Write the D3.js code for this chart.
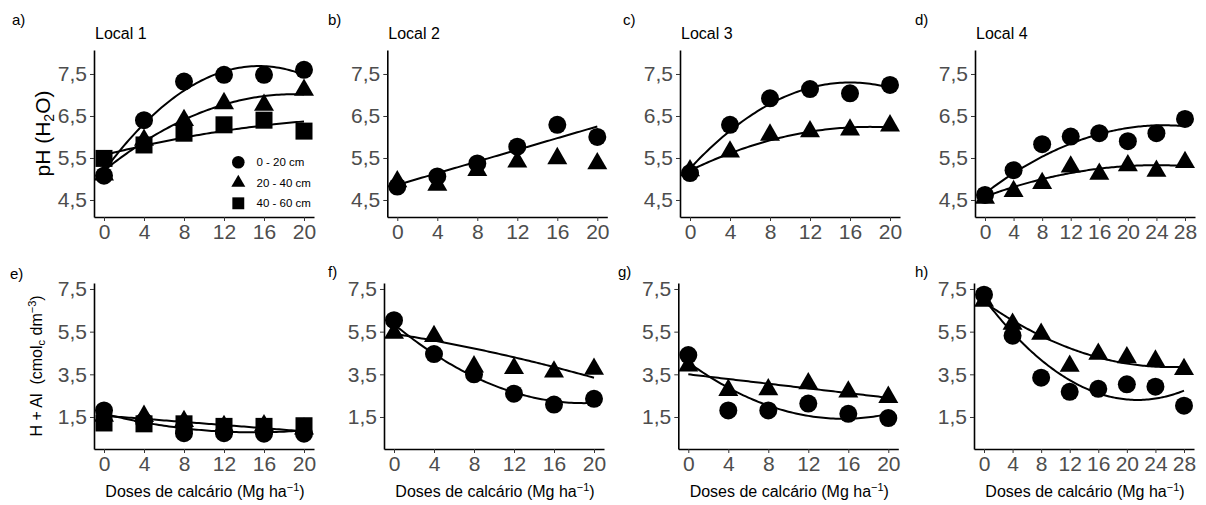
<!DOCTYPE html>
<html><head><meta charset="utf-8">
<script src="https://cdn.jsdelivr.net/npm/d3@7"></script>
<style>body{margin:0;background:#fff} text{font-family:"Liberation Sans",Arial,sans-serif}</style>
</head><body><svg id="c" width="1206" height="505"></svg>
<script>
// ---------- data ----------
const doses20 = [0, 4, 8, 12, 16, 20];
const doses28 = [0, 4, 8, 12, 16, 20, 24, 28];
const phTicks = [4.5, 5.5, 6.5, 7.5];
const halTicks = [1.5, 3.5, 5.5, 7.5];
const depths = ["0 - 20 cm", "20 - 40 cm", "40 - 60 cm"];
const locals = ["Local 1", "Local 2", "Local 3", "Local 4"];
const panelLetters = ["a)", "b)", "c)", "d)", "e)", "f)", "g)", "h)"];

// pH (H2O)
const ph1_0_20  = [5.08, 6.40, 7.32, 7.48, 7.48, 7.60];
const ph1_20_40 = [5.10, 5.93, 6.40, 6.80, 6.76, 7.12];
const ph1_40_60 = [5.49, 5.81, 6.09, 6.29, 6.40, 6.14];
const ph2_0_20  = [4.82, 5.06, 5.37, 5.77, 6.29, 6.00];
const ph2_20_40 = [4.94, 4.86, 5.21, 5.41, 5.49, 5.37];
const ph3_0_20  = [5.14, 6.29, 6.92, 7.14, 7.04, 7.24];
const ph3_20_40 = [5.20, 5.65, 6.05, 6.13, 6.17, 6.27];
const ph4_0_20  = [4.62, 5.21, 5.83, 6.01, 6.09, 5.90, 6.09, 6.43];
const ph4_20_40 = [4.55, 4.71, 4.90, 5.29, 5.12, 5.32, 5.19, 5.40];

// H + Al (cmolc dm-3)
const hal1_0_20  = [1.81, 1.30, 0.74, 0.74, 0.72, 0.72];
const hal1_20_40 = [1.55, 1.54, 1.30, 1.07, 1.10, 0.95];
const hal1_40_60 = [1.22, 1.18, 1.18, 1.06, 1.06, 1.09];
const hal2_0_20  = [6.04, 4.45, 3.50, 2.59, 2.08, 2.35];
const hal2_20_40 = [5.44, 5.28, 3.86, 3.78, 3.62, 3.75];
const hal3_0_20  = [4.40, 1.81, 1.81, 2.13, 1.65, 1.45];
const hal3_20_40 = [3.90, 2.76, 2.79, 3.07, 2.68, 2.43];
const hal4_0_20  = [7.23, 5.31, 3.34, 2.68, 2.82, 3.03, 2.92, 2.03];
const hal4_20_40 = [6.94, 5.86, 5.39, 3.89, 4.45, 4.29, 4.13, 3.74];

// fitted regression coefficients [b0, b1, b2]  (y = b0 + b1 x + b2 x^2)
const fitPh1_0_20  = [5.19, 0.3224, -0.0104];
const fitPh1_20_40 = [5.20, 0.1915, -0.00504];
const fitPh1_40_60 = [5.57, 0.060, -0.0010];
const fitPh2_0_20  = [4.86, 0.0695, 0];
const fitPh3_0_20  = [5.25, 0.256, -0.0080];
const fitPh3_20_40 = [5.20, 0.1156, -0.00321];
const fitPh4_0_20  = [4.66, 0.1295, -0.00259];
const fitPh4_20_40 = [4.58, 0.0624, -0.0013];
const fitHal1_0_20  = [1.65, -0.1161, 0.00387];
const fitHal1_20_40 = [1.56, -0.0365, 0];
const fitHal2_0_20  = [5.85, -0.3895, 0.01025];
const fitHal2_20_40 = [5.40, -0.075, -0.0014];
const fitHal3_0_20  = [4.06, -0.341, 0.011];
const fitHal3_20_40 = [3.50, -0.055, 0];
const fitHal4_0_20  = [7.05, -0.442, 0.01028];
const fitHal4_20_40 = [6.89, -0.2345, 0.00451];

// ---------- layout ----------
const topY = [217, 50], botY = [449, 283];
const phDom = [4.095, 8.071], halDom = [0.0, 7.78];
const panels = [
  {letter:0, title:locals[0], xr:[94,314],  xd:[-1,21],    yr:topY, yd:phDom, yt:phTicks, doses:doses20,
   series:[[ph1_0_20,"circle"],[ph1_20_40,"triangle"],[ph1_40_60,"square"]], fits:[fitPh1_0_20,fitPh1_20_40,fitPh1_40_60], legend:true},
  {letter:1, title:locals[1], xr:[387.3,607.3], xd:[-1,21], yr:topY, yd:phDom, yt:phTicks, doses:doses20,
   series:[[ph2_0_20,"circle"],[ph2_20_40,"triangle"]], fits:[fitPh2_0_20]},
  {letter:2, title:locals[2], xr:[680,900], xd:[-1,21],   yr:topY, yd:phDom, yt:phTicks, doses:doses20,
   series:[[ph3_0_20,"circle"],[ph3_20_40,"triangle"]], fits:[fitPh3_0_20,fitPh3_20_40]},
  {letter:3, title:locals[3], xr:[975,1195], xd:[-1.4,29.4], yr:topY, yd:phDom, yt:phTicks, doses:doses28,
   series:[[ph4_0_20,"circle"],[ph4_20_40,"triangle"]], fits:[fitPh4_0_20,fitPh4_20_40]},
  {letter:4, xr:[94,314],  xd:[-1,21], yr:botY, yd:halDom, yt:halTicks, doses:doses20, xlab:true,
   series:[[hal1_0_20,"circle"],[hal1_20_40,"triangle"],[hal1_40_60,"square"]], fits:[fitHal1_0_20,fitHal1_20_40]},
  {letter:5, xr:[384,604], xd:[-1,21], yr:botY, yd:halDom, yt:halTicks, doses:doses20, xlab:true,
   series:[[hal2_0_20,"circle"],[hal2_20_40,"triangle"]], fits:[fitHal2_0_20,fitHal2_20_40]},
  {letter:6, xr:[678.3,898.3], xd:[-1,21], yr:botY, yd:halDom, yt:halTicks, doses:doses20, xlab:true,
   series:[[hal3_0_20,"circle"],[hal3_20_40,"triangle"]], fits:[fitHal3_0_20,fitHal3_20_40]},
  {letter:7, xr:[974,1194], xd:[-1.4,29.4], yr:botY, yd:halDom, yt:halTicks, doses:doses28, xlab:true,
   series:[[hal4_0_20,"circle"],[hal4_20_40,"triangle"]], fits:[fitHal4_0_20,fitHal4_20_40]}
];
const letterPos = [[12,25],[328,25],[623,25],[915,25],[10,279],[328,277],[618,277],[915,277]];

const svg = d3.select("#c");
const fmt = d => d3.format(".1f")(d).replace(".", ",");

function drawShape(g, type, cx, cy, s) {
  if (type === "circle") {
    g.append("circle").attr("cx", cx).attr("cy", cy).attr("r", 9*s).attr("fill", "#000");
  } else if (type === "triangle") {
    const w = 10*s, h = 17.3*s;
    g.append("path").attr("d", `M${cx},${cy-h*2/3}L${cx+w},${cy+h/3}L${cx-w},${cy+h/3}Z`).attr("fill", "#000");
  } else {
    const a = 8.5*s;
    g.append("rect").attr("x", cx-a).attr("y", cy-a).attr("width", 2*a).attr("height", 2*a).attr("fill", "#000");
  }
}

panels.forEach(p => {
  const x = d3.scaleLinear().domain(p.xd).range(p.xr);
  const y = d3.scaleLinear().domain(p.yd).range(p.yr);
  const g = svg.append("g");

  const yAxis = d3.axisLeft(y).tickValues(p.yt).tickFormat(fmt).tickSize(4).tickSizeOuter(0).tickPadding(3);
  const xAxis = d3.axisBottom(x).tickValues(p.doses).tickFormat(d3.format("d")).tickSize(4).tickSizeOuter(0).tickPadding(3);
  [ [yAxis, `translate(${p.xr[0]},0)`], [xAxis, `translate(0,${p.yr[0]})`] ].forEach(([ax, tr]) => {
    const a = g.append("g").attr("transform", tr).call(ax);
    a.select(".domain").attr("stroke", "#000").attr("stroke-width", 1.6);
    a.selectAll(".tick line").attr("stroke", "#333").attr("stroke-width", 1);
    a.selectAll(".tick text").attr("fill", "#4d4d4d").style("font-size", "21px")
      .style("font-family", '"Liberation Sans",Arial,sans-serif');
  });

  // fitted lines
  const xmax = d3.max(p.doses);
  const xs = d3.range(0, xmax + 0.001, 0.25);
  p.fits.forEach(c => {
    g.append("path")
      .attr("d", d3.line().x(d => x(d)).y(d => y(c[0] + c[1]*d + c[2]*d*d))(xs))
      .attr("fill", "none").attr("stroke", "#000").attr("stroke-width", 2);
  });

  // points
  p.series.forEach(([vals, type]) => {
    vals.forEach((v, i) => drawShape(g, type, x(p.doses[i]), y(v), 1));
  });

  // panel letter
  const lp = letterPos[p.letter];
  svg.append("text").attr("x", lp[0]).attr("y", lp[1]).style("font-size", "15px").text(panelLetters[p.letter]);
  if (p.title) svg.append("text").attr("x", p.xr[0] + 1).attr("y", 38.5).style("font-size", "16px").text(p.title);

  if (p.xlab) {
    const t = svg.append("text").attr("x", (p.xr[0] + p.xr[1]) / 2 + 1).attr("y", 497)
      .attr("text-anchor", "middle").style("font-size", "16px");
    t.append("tspan").text("Doses de calcário (Mg ha");
    t.append("tspan").attr("dy", -6).style("font-size", "11px").text("−1");
    t.append("tspan").attr("dy", 6).text(")");
  }

  if (p.legend) {
    const lx = 238.3, ly = [162.3, 182.8, 203.3];
    ["circle", "triangle", "square"].forEach((t, i) => {
      drawShape(g, t, lx, ly[i], 0.7);
      g.append("text").attr("x", 256.5).attr("y", ly[i]).attr("dy", "0.35em")
        .style("font-size", "11.5px").text(depths[i]);
    });
  }
});

// y-axis titles
const yt1 = svg.append("text").attr("transform", "translate(50,133.5) rotate(-90)")
  .attr("text-anchor", "middle").style("font-size", "21px");
yt1.append("tspan").text("pH (H");
yt1.append("tspan").attr("dy", 4).style("font-size", "14px").text("2");
yt1.append("tspan").attr("dy", -4).text("O)");

const yt2 = svg.append("text").attr("transform", "translate(42,366) rotate(-90)")
  .attr("text-anchor", "middle").style("font-size", "16px");
yt2.append("tspan").text("H + Al\u00a0\u00a0(cmol");
yt2.append("tspan").attr("dy", 3).style("font-size", "11px").text("c");
yt2.append("tspan").attr("dy", -3).text("\u00a0dm");
yt2.append("tspan").attr("dy", -6).style("font-size", "11px").text("−3");
yt2.append("tspan").attr("dy", 6).text(")");
</script></body></html>
